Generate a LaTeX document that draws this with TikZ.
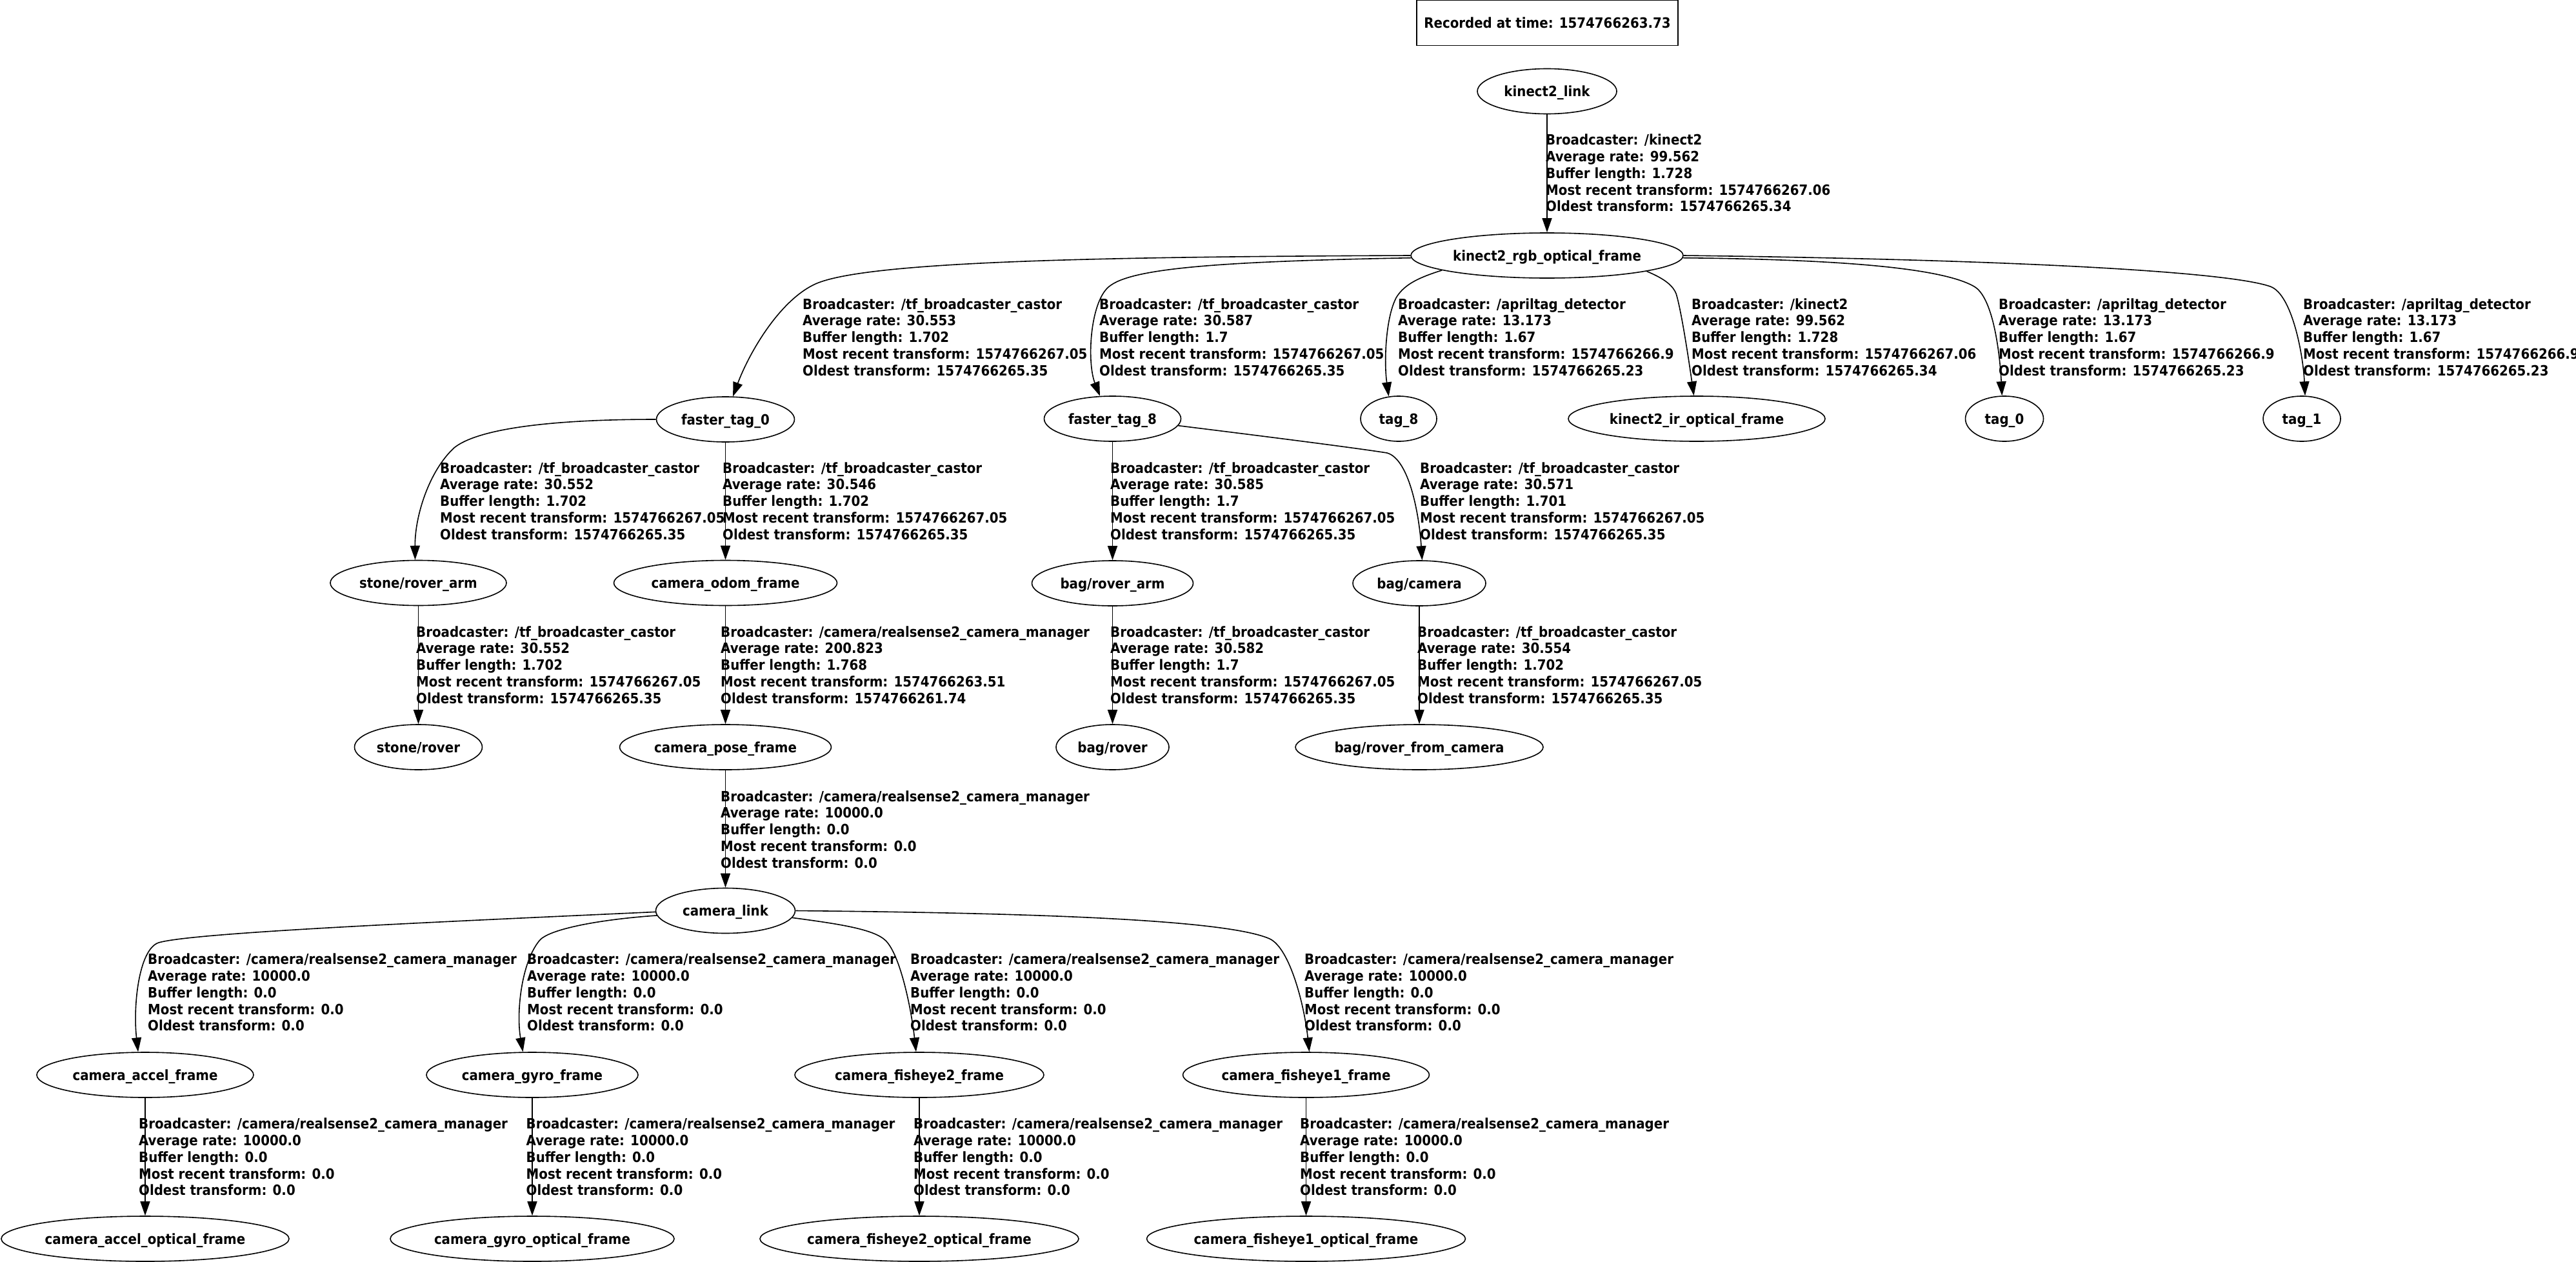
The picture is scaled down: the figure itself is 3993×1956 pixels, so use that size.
\documentclass[tikz,border=0pt]{standalone}
\usepackage{fontspec}
\usetikzlibrary{arrows.meta,shapes.geometric}
\newfontfamily\gvfont{DejaVu Sans Condensed Bold}

% five-line transform statistics printed beside each tf edge
\newcommand{\tfinfo}[5]{\begin{tabular}[t]{@{}l@{}}Broadcaster: #1\\Average rate: #2\\Buffer length: #3\\Most recent transform: #4\\Oldest transform: #5\end{tabular}}
\newcommand{\tfzero}{\tfinfo{/camera/realsense2\_camera\_manager}{10000.0}{0.0}{0.0}{0.0}}
\newcommand{\tfcastor}[2]{\tfinfo{/tf\_broadcaster\_castor}{#1}{#2}{1574766267.05}{1574766265.35}}
\newcommand{\tfapril}{\tfinfo{/apriltag\_detector}{13.173}{1.67}{1574766266.9}{1574766265.23}}
\newcommand{\tfkinect}{\tfinfo{/kinect2}{99.562}{1.728}{1574766267.06}{1574766265.34}}

\tikzset{
  gv/.style={font=\gvfont\fontsize{22}{25.8}\selectfont},
  frame/.style={gv, draw, ellipse, line width=1.6pt, inner sep=0pt,
    minimum height=70pt, text height=16.5pt, text depth=0pt},
  edge/.style={line width=1.6pt, -{Triangle[length=22pt,width=15pt]}},
  info/.style={gv, anchor=base west, inner sep=0pt},
}

\begin{document}
\begin{tikzpicture}[x=1pt, y=-1pt]
\useasboundingbox (0,0) rectangle (3993,1956);

% header
\node[gv, draw, rectangle, line width=1.6pt, inner sep=0pt, minimum width=405pt,
  minimum height=70pt, text height=16.5pt, text depth=0pt] (rec) at (2398.5,35.5)
  {Recorded at time: 1574766263.73};

% frames
\node[frame, minimum width=216pt] (kl)   at (2398,141.5) {kinect2\_link};
\node[frame, minimum width=422pt] (kr)   at (2398,396)   {kinect2\_rgb\_optical\_frame};
\node[frame, minimum width=214pt] (ft0)  at (1124.5,650) {faster\_tag\_0};
\node[frame, minimum width=212pt] (ft8)  at (1724.5,649) {faster\_tag\_8};
\node[frame, minimum width=118pt] (tg8)  at (2168,649)   {tag\_8};
\node[frame, minimum width=398pt] (ir)   at (2630,649)   {kinect2\_ir\_optical\_frame};
\node[frame, minimum width=121pt] (tg0)  at (3107,649)   {tag\_0};
\node[frame, minimum width=120pt] (tg1)  at (3568,649)   {tag\_1};
\node[frame, minimum width=273pt] (sra)  at (648.5,903.5) {stone/rover\_arm};
\node[frame, minimum width=346pt] (com)  at (1124.5,903.5) {camera\_odom\_frame};
\node[frame, minimum width=250pt] (bra)  at (1724.5,904) {bag/rover\_arm};
\node[frame, minimum width=206pt] (bcam) at (2200,904)   {bag/camera};
\node[frame, minimum width=198pt] (sr)   at (648.5,1158) {stone/rover};
\node[frame, minimum width=328pt] (cpf)  at (1124.5,1158) {camera\_pose\_frame};
\node[frame, minimum width=175pt] (br)   at (1724.5,1158) {bag/rover};
\node[frame, minimum width=384pt] (brfc) at (2200,1158)  {bag/rover\_from\_camera};
\node[frame, minimum width=216pt] (cl)   at (1124.5,1411.5) {camera\_link};
\node[frame, minimum width=336pt] (caf)  at (225,1666)   {camera\_accel\_frame};
\node[frame, minimum width=328pt] (cgf)  at (825,1666)   {camera\_gyro\_frame};
\node[frame, minimum width=386pt] (cf2)  at (1425,1666)  {camera\_fisheye2\_frame};
\node[frame, minimum width=382pt] (cf1)  at (2024.5,1666) {camera\_fisheye1\_frame};
\node[frame, minimum width=446pt] (cao)  at (225,1920)   {camera\_accel\_optical\_frame};
\node[frame, minimum width=440pt] (cgo)  at (825,1920)   {camera\_gyro\_optical\_frame};
\node[frame, minimum width=494pt] (cf2o) at (1425,1920)  {camera\_fisheye2\_optical\_frame};
\node[frame, minimum width=494pt] (cf1o) at (2024.5,1920) {camera\_fisheye1\_optical\_frame};

% straight edges
\draw[edge] (kl) -- (kr);
\draw[edge] (ft0) -- (com);
\draw[edge] (ft8) -- (bra);
\draw[edge] (sra) -- (sr);
\draw[edge] (com) -- (cpf);
\draw[edge] (bra) -- (br);
\draw[edge] (bcam) -- (brfc);
\draw[edge] (cpf) -- (cl);
\draw[edge] (caf) -- (cao);
\draw[edge] (cgf) -- (cgo);
\draw[edge] (cf2) -- (cf2o);
\draw[edge] (cf1) -- (cf1o);

% curved edges out of kinect2_rgb_optical_frame
\draw[edge] (kr.west) .. controls (1700,398) and (1330,405) .. (1260,442)
  .. controls (1205,470) and (1160,550) .. (ft0.72);
\draw[edge] (kr.181) .. controls (1900,405) and (1760,415) .. (1722,442)
  .. controls (1690,462) and (1684,560) .. (ft8.119);
\draw[edge] (kr.188) .. controls (2200,430) and (2178,440) .. (2165,460)
  .. controls (2148,490) and (2145,560) .. (tg8.114);
\draw[edge] (kr.351) .. controls (2575,430) and (2592,440) .. (2598,455)
  .. controls (2606,480) and (2618,560) .. (ir.97);
\draw[edge] (kr.359) .. controls (2850,402) and (3010,415) .. (3060,444)
  .. controls (3090,461) and (3100,550) .. (tg0.96);
\draw[edge] (kr.east) .. controls (3100,402) and (3450,420) .. (3519,444)
  .. controls (3553,456) and (3570,550) .. (tg1.82);

% curved edges out of faster_tag_0 and faster_tag_8
\draw[edge] (ft0.west) .. controls (850,650) and (740,665) .. (704,694)
  .. controls (665,730) and (643,800) .. (sra.98);
\draw[edge] (ft8.-6) .. controls (1950,675) and (2100,694) .. (2150,702)
  .. controls (2185,712) and (2200,800) .. (bcam.83);

% curved edges out of camera_link
\draw[edge] (cl.181) .. controls (700,1428) and (300,1445) .. (246,1461)
  .. controls (215,1471) and (206,1560) .. (caf.107);
\draw[edge] (cl.184) .. controls (930,1425) and (850,1440) .. (836,1458)
  .. controls (808,1492) and (800,1570) .. (cgf.112);
\draw[edge] (cl.-6) .. controls (1300,1432) and (1355,1440) .. (1373,1458)
  .. controls (1395,1480) and (1412,1560) .. (cf2.98);
\draw[edge] (cl.east) .. controls (1600,1415) and (1900,1425) .. (1968,1455)
  .. controls (2000,1470) and (2022,1560) .. (cf1.82);

% edge statistics
\node[info] (i-kl-kr)   at (2396,224.7) {\tfkinect};
\node[info] (i-kr-ft0)  at (1244,479) {\tfcastor{30.553}{1.702}};
\node[info] (i-kr-ft8)  at (1704,479) {\tfcastor{30.587}{1.7}};
\node[info] (i-kr-tg8)  at (2167,479) {\tfapril};
\node[info] (i-kr-ir)   at (2622,479) {\tfkinect};
\node[info] (i-kr-tg0)  at (3098,479) {\tfapril};
\node[info] (i-kr-tg1)  at (3570,479) {\tfapril};
\node[info] (i-ft0-sra) at (682,733)  {\tfcastor{30.552}{1.702}};
\node[info] (i-ft0-com) at (1120,733) {\tfcastor{30.546}{1.702}};
\node[info] (i-ft8-bra) at (1721,733) {\tfcastor{30.585}{1.7}};
\node[info] (i-ft8-bcam) at (2201,733) {\tfcastor{30.571}{1.701}};
\node[info] (i-sra-sr)  at (645,987)  {\tfcastor{30.552}{1.702}};
\node[info] (i-com-cpf) at (1117,987) {\tfinfo{/camera/realsense2\_camera\_manager}{200.823}{1.768}{1574766263.51}{1574766261.74}};
\node[info] (i-bra-br)  at (1721,987) {\tfcastor{30.582}{1.7}};
\node[info] (i-bcam-brfc) at (2197,987) {\tfcastor{30.554}{1.702}};
\node[info] (i-cpf-cl)  at (1117,1242) {\tfzero};
\node[info] (i-cl-caf)  at (229,1494.7)  {\tfzero};
\node[info] (i-cl-cgf)  at (817,1494.7)  {\tfzero};
\node[info] (i-cl-cf2)  at (1411,1494.7) {\tfzero};
\node[info] (i-cl-cf1)  at (2022,1494.7) {\tfzero};
\node[info] (i-caf-cao) at (215,1749.7)  {\tfzero};
\node[info] (i-cgf-cgo) at (815.5,1749.7) {\tfzero};
\node[info] (i-cf2-cf2o) at (1416,1749.7) {\tfzero};
\node[info] (i-cf1-cf1o) at (2015,1749.7) {\tfzero};
\end{tikzpicture}
\end{document}
